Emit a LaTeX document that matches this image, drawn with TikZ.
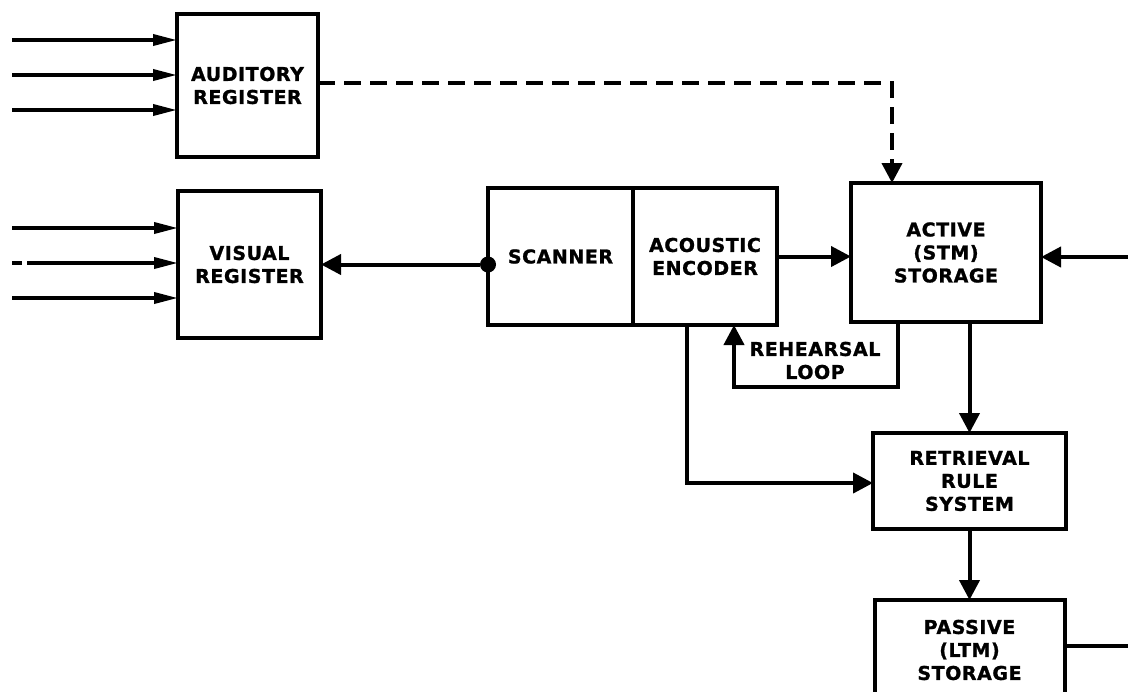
\documentclass[tikz,border=0pt]{standalone}
\usepackage{fontspec}
\newfontfamily\diagfont{DejaVu Sans}[BoldFeatures={FakeBold=1.2,LetterSpace=3}]
\usetikzlibrary{arrows.meta,positioning}

\tikzset{
  box/.style={draw, line width=2pt, rectangle, inner sep=0pt, outer sep=0pt, align=center,
    font=\diagfont\bfseries\fontsize{9.5}{11.5}\selectfont},
  lbl/.style={align=center, font=\diagfont\bfseries\fontsize{9.5}{11.5}\selectfont},
  flow/.style={line width=2pt, -{Triangle[length=10pt,width=10pt]}},
  inflow/.style={line width=1.8pt, -{Triangle[length=12pt,width=5.5pt]}},
  link/.style={line width=2pt},
  dot/.style={circle, fill, inner sep=0pt, minimum size=8pt},
}

\begin{document}
\begin{tikzpicture}[x=0.5pt,y=-0.5pt]
      \useasboundingbox (0,0) rectangle (1128,691);

      \node[box,minimum width=70.5pt,minimum height=71.5pt] (aud) at (247.5,85.5) {AUDITORY\\REGISTER};
      \node[box,minimum width=71.5pt,minimum height=73.5pt] (vis) at (249.5,264.5) {VISUAL\\REGISTER};
      \node[box,minimum width=72.5pt,minimum height=68.5pt] (scan) at (560.5,256.5) {SCANNER};
      \node[box,minimum width=72pt,minimum height=68.5pt,right=0pt of scan] (enc) {ACOUSTIC\\ENCODER};
      \node[box,minimum width=95pt,minimum height=69.5pt] (act) at (946,252.5) {ACTIVE\\(STM)\\STORAGE};
      \node[box,minimum width=96.5pt,minimum height=48pt] (ret) at (969.5,481) {RETRIEVAL\\RULE\\SYSTEM};
      \node[box,minimum width=95pt,minimum height=50pt,below=35.5pt of ret] (pas) {PASSIVE\\(LTM)\\STORAGE};
      \node[lbl] (loop) at (815,360.5) {REHEARSAL\\LOOP};
      \node[dot] (sdot) at (scan.west |- vis) {};

      \foreach \y in {40,75,110} {
        \coordinate (ain\y) at (12,\y);
        \draw[inflow] (ain\y) -- (ain\y -| aud.west);
      }
      \foreach \y in {228,298} {
        \coordinate (vin\y) at (12,\y);
        \draw[inflow] (vin\y) -- (vin\y -| vis.west);
      }
      \coordinate (vin) at (12,263);
      \draw[inflow,dash pattern=on 5pt off 2.5pt on 200pt] (vin) -- (vin -| vis.west);

      \coordinate (dcorner) at (892,83);
      \draw[flow,dash pattern=on 8.5pt off 4.5pt] (aud.east |- dcorner) -- (dcorner) -- (dcorner |- act.north);

      \draw[flow] (sdot) -- (vis);
      \draw[flow] (enc.east) -- (enc.east -| act.west);
      \coordinate (rin) at (1128,257);
      \draw[flow] (rin) -- (rin -| act.east);

      \coordinate (lp1) at (898,387);
      \coordinate (lp2) at (734,387);
      \draw[flow] (lp1 |- act.south) -- (lp1) -- (lp2) -- (lp2 |- enc.south);

      \coordinate (rc) at (687,483);
      \draw[flow] (rc |- enc.south) -- (rc) -- (rc -| ret.west);
      \draw[flow] (ret.north |- act.south) -- (ret.north);
      \draw[flow] (ret.south) -- (ret.south |- pas.north);

      \coordinate (pout) at (1128,646);
      \draw[link] (pout -| pas.east) -- (pout);
\end{tikzpicture}
\end{document}
